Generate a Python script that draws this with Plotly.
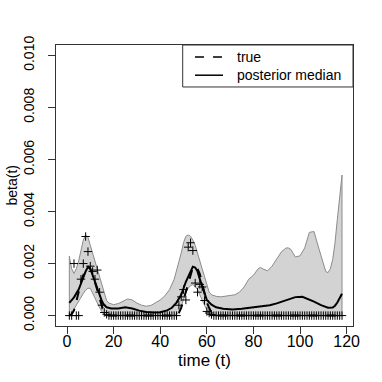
import plotly.graph_objects as go

# ---- data ----
band_t = [1, 2, 3, 4, 5, 6, 7, 8, 9, 10, 11, 12, 13, 14, 15, 16, 17, 18, 20, 22, 24, 26, 28, 30,
          32, 34, 36, 38, 40, 42, 44, 46, 48, 49, 50, 51, 52, 53, 54, 55, 56, 57, 58, 59, 60, 61,
          62, 64, 66, 68, 70, 72, 74, 76, 78, 80, 82, 83, 84, 86, 88, 90, 92, 94, 95, 96, 98, 100,
          101, 102, 104, 106, 108, 110, 111, 112, 113, 114, 115, 116, 117, 118]
band_upper = [0.00228, 0.0018, 0.00162, 0.0018, 0.0021, 0.0025, 0.0029, 0.0031, 0.0030, 0.0027,
              0.0024, 0.0021, 0.0018, 0.0015, 0.0011, 0.0008, 0.00058, 0.00048, 0.00042, 0.00046,
              0.00056, 0.00064, 0.0006, 0.00048, 0.0004, 0.00036, 0.00039, 0.00048, 0.0006,
              0.00076, 0.001, 0.0014, 0.002, 0.0024, 0.0028, 0.00305, 0.0031, 0.00305, 0.0029,
              0.0027, 0.0024, 0.0021, 0.0017, 0.0014, 0.0011, 0.0009, 0.0008, 0.00074, 0.00072,
              0.00074, 0.00076, 0.0008, 0.0009, 0.0011, 0.0014, 0.00155, 0.0018, 0.00185, 0.0018,
              0.00172, 0.0019, 0.0022, 0.00245, 0.0026, 0.0026, 0.00255, 0.00225, 0.0023, 0.00246,
              0.0026, 0.0032, 0.00323, 0.0026, 0.002, 0.0017, 0.00165, 0.0018, 0.00215, 0.0028,
              0.0037, 0.0045, 0.0054]
band_lower = [0.00002, 0.0001, 0.00025, 0.0004, 0.00055, 0.0007, 0.00085, 0.00098, 0.00105,
              0.00105, 0.0009, 0.0007, 0.0005, 0.0003, 0.00015, 0.00006, 0.00002, 0.00001,
              0.00001, 0.00001, 0.00001, 0.00001, 0.00001, 0.00001, 0.00001, 0.00001, 0.00001,
              0.00001, 0.00001, 0.00001, 0.00001, 0.00002, 0.0001, 0.0003, 0.0006, 0.00088,
              0.00105, 0.00115, 0.00119, 0.00112, 0.001, 0.00085, 0.0006, 0.0004, 0.00022, 0.0001,
              0.00003, 0.00001, 0.00001, 0.00001, 0.00001, 0.00001, 0.00001, 0.00001, 0.00001,
              0.00001, 0.00001, 0.00001, 0.00001, 0.00001, 0.00001, 0.00001, 0.00001, 0.00001,
              0.00001, 0.00001, 0.00001, 0.00001, 0.00001, 0.00001, 0.00001, 0.00001, 0.00001,
              0.00001, 0.00001, 0.00001, 0.00001, 0.00001, 0.00001, 0.00001, 0.00001, 0.00001]

median_t = [1, 3, 5, 7, 8, 9, 10, 11, 12, 13, 14, 15, 16, 17, 19, 22, 25, 28, 31, 34, 37, 40, 43,
            45, 47, 49, 51, 53, 54, 55, 56, 57, 58, 59, 60, 62, 64, 67, 71, 75, 79, 83, 87, 90, 93,
            96, 98, 101, 103, 106, 109, 112, 114, 115, 116, 117, 118]
median_val = [0.00049, 0.0007, 0.001, 0.0015, 0.0017, 0.00187, 0.0018, 0.00155, 0.0013, 0.001,
              0.0008, 0.00055, 0.0004, 0.00032, 0.00027, 0.00027, 0.00032, 0.00027, 0.00019,
              0.00014, 0.00012, 0.00013, 0.0002, 0.0003, 0.0005, 0.0008, 0.0013, 0.0017, 0.00188,
              0.00185, 0.0017, 0.0014, 0.0011, 0.00085, 0.0006, 0.00042, 0.00032, 0.00026, 0.00023,
              0.00026, 0.0003, 0.00036, 0.0004, 0.00047, 0.00056, 0.00066, 0.00071, 0.00072,
              0.00066, 0.00054, 0.0004, 0.0003, 0.00031, 0.00038, 0.0005, 0.00065, 0.00084]

true_t = [1, 2, 3, 4, 5, 6, 7, 8, 9, 10, 11, 12, 13, 14, 15, 16, 17, 18, 47, 48, 49, 50, 51, 52,
          53, 54, 55, 56, 57, 58, 59, 60, 61, 62, 63, 64, 118]
true_val = [0.0, 0.00005, 0.0002, 0.0005, 0.0009, 0.0013, 0.0016, 0.0018, 0.0019, 0.0018, 0.0016,
            0.0013, 0.00095, 0.0006, 0.00035, 0.00015, 0.00004, 0.0, 0.0, 0.0001, 0.0003, 0.0006,
            0.0009, 0.00115, 0.0015, 0.00185, 0.0019, 0.0018, 0.0016, 0.0012, 0.00087, 0.0005,
            0.0003, 0.00012, 0.00003, 0.0, 0.0]

obs_t = list(range(1, 119))
obs_val = [0, 0, 0.002, 0, 0, 0.0014, 0.002, 0.00304, 0.00246, 0.0019,
           0.0017, 0.0014, 0.00175, 0.0009, 0.0004, 0.00012, 0.00005, 0, 0, 0,
           0, 0, 0, 0, 0, 0, 0, 0, 0, 0,
           0, 0, 0, 0, 0, 0, 0, 0, 0, 0,
           0, 0, 0, 0, 0, 0, 0, 0.0004, 0.00072, 0.001,
           0.0006, 0.00263, 0.0028, 0.0025, 0.00125, 0.0009, 0.0012, 0.0011, 0.00058, 0.00016,
           0.0001, 0.00004, 0, 0, 0, 0, 0, 0, 0, 0,
           0, 0, 0, 0, 0, 0, 0, 0, 0, 0,
           0, 0, 0, 0, 0, 0, 0, 0, 0, 0,
           0, 0, 0, 0, 0, 0, 0, 0, 0, 0,
           0, 0, 0, 0, 0, 0, 0, 0, 0, 0,
           0, 0, 0, 0, 0, 0, 0, 0]

x_ticks = [0, 20, 40, 60, 80, 100, 120]
y_ticks = [0.000, 0.002, 0.004, 0.006, 0.008, 0.010]
y_tick_labels = ["0.000", "0.002", "0.004", "0.006", "0.008", "0.010"]
legend_labels = ["true", "posterior median"]

FONT = "Liberation Sans, Arial, sans-serif"
AX = "#333333"

fig = go.Figure()

# credible band polygon
poly_x = band_t + band_t[::-1] + [band_t[0]]
poly_y = band_upper + band_lower[::-1] + [band_upper[0]]
fig.add_trace(go.Scatter(x=poly_x, y=poly_y, mode="lines", fill="toself",
                         fillcolor="#d3d3d3", line=dict(color="#8c8c8c", width=1),
                         showlegend=False, hoverinfo="skip"))

fig.add_trace(go.Scatter(x=obs_t, y=obs_val, mode="markers", showlegend=False,
                         marker=dict(symbol="cross-thin", size=6, color="black",
                                     line=dict(color="black", width=1))))

fig.add_trace(go.Scatter(x=true_t, y=true_val, mode="lines", name=legend_labels[0],
                         showlegend=False,
                         line=dict(color="black", width=2, dash="dash")))
fig.add_trace(go.Scatter(x=median_t, y=median_val, mode="lines", name=legend_labels[1],
                         showlegend=False,
                         line=dict(color="black", width=2)))

axis_common = dict(showline=True, mirror=True, linecolor=AX, linewidth=1,
                   showgrid=False, zeroline=False, ticks="outside", ticklen=7,
                   tickcolor=AX, tickwidth=1, automargin=False)

fig.update_xaxes(range=[-4.72, 122.72], tickvals=x_ticks, ticklabelstandoff=-6,
                 tickfont=dict(family=FONT, size=16, color="black"), **axis_common)
fig.update_yaxes(range=[-0.0004, 0.0104], tickvals=y_ticks, ticktext=y_tick_labels,
                 tickangle=-90, ticklabelstandoff=8,
                 tickfont=dict(family=FONT, size=14, color="black"), **axis_common)

# manual legend box (R style)
lg_x0, lg_y0 = 0.4266, 0.8506
line_x0, line_x1 = 0.468, 0.5623
row_y = [0.9571, 0.8925]
text_x = 0.6027
shapes = [
    dict(type="rect", xref="paper", yref="paper", x0=lg_x0, x1=1.0, y0=lg_y0, y1=1.0,
         line=dict(color=AX, width=1), fillcolor="white", layer="above"),
    dict(type="line", xref="paper", yref="paper", x0=line_x0, x1=line_x1, y0=row_y[0], y1=row_y[0],
         line=dict(color="black", width=1.5, dash="dash"), layer="above"),
    dict(type="line", xref="paper", yref="paper", x0=line_x0, x1=line_x1, y0=row_y[1], y1=row_y[1],
         line=dict(color="black", width=1.5), layer="above"),
]
annotations = [
    dict(text="<br>".join(legend_labels), xref="paper", yref="paper", x=text_x,
         y=(row_y[0] + row_y[1]) / 2, xanchor="left", yanchor="middle", align="left",
         showarrow=False, font=dict(family=FONT, size=14, color="black")),
    dict(text="time (t)", xref="paper", yref="paper", x=0.5, y=-0.123,
         yanchor="middle", xanchor="center", showarrow=False,
         font=dict(family=FONT, size=17, color="black")),
    dict(text="beta(t)", xref="paper", yref="paper", x=-0.1515, y=0.5,
         xanchor="center", yanchor="middle", textangle=-90, showarrow=False,
         font=dict(family=FONT, size=14, color="black")),
]

fig.update_layout(
    width=382, height=382,
    margin=dict(l=56, r=29, t=45, b=56),
    paper_bgcolor="white", plot_bgcolor="white",
    font=dict(family=FONT, color="black"),
    showlegend=False,
    hovermode=False,
    shapes=shapes,
    annotations=annotations,
)

# remove the default 8px page margin so the figure fills the 382x382 window
fig.write_html("out.html", config={"displayModeBar": False, "staticPlot": True},
               post_script="document.body.style.margin='0px';")
